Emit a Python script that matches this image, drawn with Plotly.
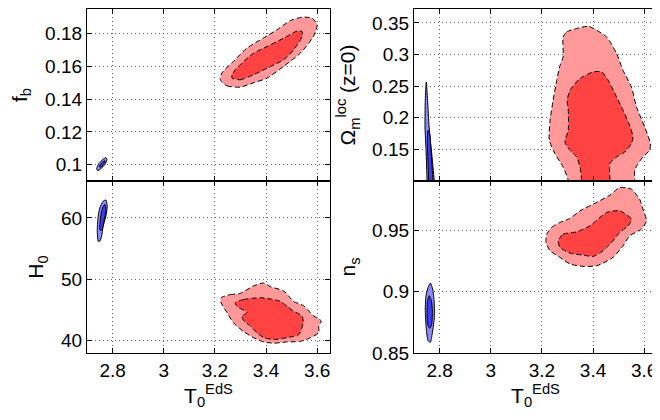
import plotly.graph_objects as go

# ---------------- data ----------------
x_ticks = [2.8, 3.0, 3.2, 3.4, 3.6]
x_tick_labels = ["2.8", "3", "3.2", "3.4", "3.6"]

fb_ticks = [0.1, 0.12, 0.14, 0.16, 0.18]
fb_tick_labels = ["0.1", "0.12", "0.14", "0.16", "0.18"]
H0_ticks = [40, 50, 60]
H0_tick_labels = ["40", "50", "60"]
Om_ticks = [0.15, 0.2, 0.25, 0.3, 0.35]
Om_tick_labels = ["0.15", "0.2", "0.25", "0.3", "0.35"]
ns_ticks = [0.85, 0.9, 0.95]
ns_tick_labels = ["0.85", "0.9", "0.95"]

# f_b vs T0 : red (95% outer, 68% inner), blue
fb_red95_T = [3.221, 3.247, 3.299, 3.350, 3.404, 3.468, 3.535, 3.585, 3.600, 3.580, 3.541, 3.495, 3.443, 3.389, 3.325, 3.272, 3.227]
fb_red95_y = [0.1518, 0.1481, 0.1473, 0.1499, 0.1528, 0.1599, 0.1682, 0.1782, 0.1853, 0.1894, 0.1900, 0.1879, 0.1823, 0.1772, 0.1711, 0.1629, 0.1559]
fb_red68_T = [3.267, 3.299, 3.351, 3.404, 3.469, 3.508, 3.541, 3.541, 3.522, 3.469, 3.404, 3.351, 3.312, 3.280, 3.267]
fb_red68_y = [0.1528, 0.1518, 0.1548, 0.1589, 0.1640, 0.1701, 0.1782, 0.1812, 0.1816, 0.1772, 0.1721, 0.1680, 0.1629, 0.1579, 0.1548]
fb_blue95_T = [2.738, 2.746, 2.762, 2.774, 2.778, 2.770, 2.754, 2.742]
fb_blue95_y = [0.0975, 0.1006, 0.1031, 0.1043, 0.1031, 0.1000, 0.0975, 0.0963]
fb_blue68_T = [2.748, 2.758, 2.770, 2.766, 2.754]
fb_blue68_y = [0.0987, 0.1012, 0.1024, 0.1006, 0.0984]

# H0 vs T0
H0_red95_T = [3.224, 3.260, 3.299, 3.351, 3.391, 3.417, 3.469, 3.508, 3.547, 3.561, 3.587, 3.616, 3.606, 3.606, 3.574, 3.535, 3.482, 3.430, 3.391, 3.351, 3.312, 3.273, 3.247, 3.224]
H0_red95_y = [47.0, 47.5, 47.7, 48.9, 49.4, 48.8, 48.1, 46.4, 45.7, 45.1, 44.0, 43.2, 42.4, 41.3, 40.5, 39.9, 39.8, 39.6, 39.8, 40.5, 41.5, 42.9, 44.6, 46.2]
H0_red68_T = [3.280, 3.312, 3.378, 3.417, 3.456, 3.482, 3.508, 3.541, 3.545, 3.528, 3.482, 3.430, 3.391, 3.365, 3.338, 3.312, 3.306, 3.325, 3.286]
H0_red68_y = [46.2, 46.7, 47.0, 46.8, 46.4, 45.6, 44.8, 44.0, 42.9, 41.0, 40.5, 40.2, 40.5, 41.3, 42.4, 43.3, 44.0, 44.6, 45.6]
H0_blue95_T = [2.744, 2.740, 2.744, 2.750, 2.763, 2.774, 2.779, 2.774, 2.763, 2.757, 2.750]
H0_blue95_y = [56.2, 58.1, 60.3, 61.6, 62.7, 62.9, 61.9, 60.3, 58.6, 57.0, 56.2]
H0_blue68_T = [2.750, 2.754, 2.761, 2.770, 2.774, 2.767, 2.761, 2.754]
H0_blue68_y = [58.1, 60.3, 61.6, 62.2, 61.3, 59.7, 58.4, 57.9]

# Omega_m^loc vs T0
Om_red95_T = [3.283, 3.297, 3.336, 3.381, 3.414, 3.453, 3.492, 3.517, 3.550, 3.570, 3.602, 3.624, 3.621, 3.595, 3.576, 3.563, 3.563, 3.563,
              3.303, 3.303, 3.283, 3.251, 3.229, 3.232, 3.244, 3.258, 3.271, 3.283]
Om_red95_y = [0.3278, 0.3358, 0.3411, 0.3448, 0.3384, 0.3278, 0.3016, 0.2752, 0.2487, 0.2171, 0.1854, 0.1592, 0.1486, 0.1380, 0.1275, 0.1169, 0.1011, 0.09,
              0.09, 0.1011, 0.1222, 0.1433, 0.1644, 0.1960, 0.2277, 0.2593, 0.2831, 0.2962]
Om_red68_T = [3.310, 3.349, 3.400, 3.433, 3.459, 3.492, 3.517, 3.543, 3.556, 3.550, 3.524, 3.492, 3.466, 3.466, 3.466,
              3.355, 3.355, 3.349, 3.336, 3.310, 3.290, 3.303, 3.303, 3.299]
Om_red68_y = [0.2435, 0.2620, 0.2725, 0.2725, 0.2593, 0.2329, 0.2119, 0.1881, 0.1696, 0.1592, 0.1459, 0.1380, 0.1275, 0.1011, 0.09,
              0.09, 0.1011, 0.1222, 0.1380, 0.1486, 0.1617, 0.1802, 0.2119, 0.2277]
Om_blue95_T = [2.748, 2.753, 2.759, 2.768, 2.779, 2.780, 2.751, 2.751, 2.747, 2.743, 2.744]
Om_blue95_y = [0.2567, 0.2277, 0.1854, 0.1486, 0.1011, 0.09, 0.09, 0.1011, 0.1486, 0.1854, 0.2277]
Om_blue68_T = [2.755, 2.761, 2.766, 2.774, 2.775, 2.757, 2.757, 2.753, 2.752]
Om_blue68_y = [0.1802, 0.1750, 0.1486, 0.1011, 0.09, 0.09, 0.1011, 0.1486, 0.1696]

# n_s vs T0
ns_red95_T = [3.219, 3.238, 3.271, 3.310, 3.349, 3.400, 3.466, 3.504, 3.550, 3.582, 3.595, 3.609, 3.589, 3.543, 3.517, 3.478, 3.414, 3.361, 3.310, 3.271, 3.232, 3.216]
ns_red95_y = [0.9467, 0.9522, 0.9563, 0.9595, 0.9657, 0.9711, 0.9785, 0.9847, 0.9833, 0.9752, 0.9671, 0.9576, 0.9508, 0.9454, 0.9372, 0.9278, 0.9210, 0.9205, 0.9224, 0.9278, 0.9332, 0.9400]
ns_red68_T = [3.264, 3.283, 3.336, 3.388, 3.453, 3.504, 3.550, 3.537, 3.504, 3.478, 3.439, 3.400, 3.361, 3.310, 3.271]
ns_red68_y = [0.9413, 0.9467, 0.9486, 0.9535, 0.9644, 0.9657, 0.9589, 0.9535, 0.9481, 0.9413, 0.9332, 0.9286, 0.9297, 0.9313, 0.9359]
ns_blue95_T = [2.764, 2.773, 2.779, 2.779, 2.770, 2.764, 2.755, 2.747, 2.744, 2.747, 2.755]
ns_blue95_y = [0.9069, 0.9020, 0.8912, 0.8776, 0.8641, 0.8587, 0.8600, 0.8722, 0.8858, 0.8966, 0.9034]
ns_blue68_T = [2.760, 2.768, 2.772, 2.768, 2.761, 2.753, 2.751, 2.753]
ns_blue68_y = [0.8966, 0.8925, 0.8831, 0.8722, 0.8701, 0.8736, 0.8831, 0.8925]

# ---------------- styling ----------------
RED_LIGHT = "#FF9999"
RED_DARK = "#FF4242"
BLUE_LIGHT = "#8C8CFF"
BLUE_DARK = "#3C3CFA"
FONT = "Liberation Sans, Arial, sans-serif"

fig = go.Figure()


def region(T, y, color, xa, ya, dashed):
    fig.add_trace(go.Scatter(
        x=list(T) + [T[0]], y=list(y) + [y[0]],
        xaxis=xa, yaxis=ya, mode="lines", fill="toself", fillcolor=color,
        line=dict(color="black", width=1, dash="5px,3px" if dashed else "solid",
                  shape="spline", smoothing=0.6),
        hoverinfo="skip", showlegend=False))


panels = [
    ("x", "y", fb_red95_T, fb_red95_y, fb_red68_T, fb_red68_y, fb_blue95_T, fb_blue95_y, fb_blue68_T, fb_blue68_y),
    ("x2", "y2", Om_red95_T, Om_red95_y, Om_red68_T, Om_red68_y, Om_blue95_T, Om_blue95_y, Om_blue68_T, Om_blue68_y),
    ("x3", "y3", H0_red95_T, H0_red95_y, H0_red68_T, H0_red68_y, H0_blue95_T, H0_blue95_y, H0_blue68_T, H0_blue68_y),
    ("x4", "y4", ns_red95_T, ns_red95_y, ns_red68_T, ns_red68_y, ns_blue95_T, ns_blue95_y, ns_blue68_T, ns_blue68_y),
]
for xa, ya, rT, ry, rT2, ry2, bT, by, bT2, by2 in panels:
    region(rT, ry, RED_LIGHT, xa, ya, True)
    region(rT2, ry2, RED_DARK, xa, ya, True)
    region(bT, by, BLUE_LIGHT, xa, ya, False)
    region(bT2, by2, BLUE_DARK, xa, ya, False)

tickfont = dict(family=FONT, size=19, color="black")
titlefont = dict(family=FONT, size=21, color="black")

common = dict(showline=True, linecolor="black", linewidth=1.2, mirror="ticks",
              ticks="inside", ticklen=5, tickcolor="black", tickwidth=1,
              showgrid=True, gridcolor="rgba(0,0,0,0.6)", griddash="1px,3px", gridwidth=1,
              zeroline=False, tickfont=tickfont)

# the page body adds an 8px offset, so the figure is 8px smaller than the window
col1 = [0.0, 0.4263]
col2 = [0.5737, 1.0]
top = [0.5, 1.0]
bot = [0.0, 0.5]
xr = [2.7, 3.65]

xt = dict(range=xr, tickvals=x_ticks, ticktext=x_tick_labels, automargin=False, **common)
yt = dict(automargin=True, **common)

fig.update_layout(
    width=652, height=412,
    margin=dict(l=79, r=3, t=1, b=67, autoexpand=False),
    paper_bgcolor="white", plot_bgcolor="white",
    font=dict(family=FONT, color="black"),
    xaxis=dict(domain=col1, anchor="y", showticklabels=False, **xt),
    xaxis2=dict(domain=col2, anchor="y2", showticklabels=False, **xt),
    xaxis3=dict(domain=col1, anchor="y3", title=dict(text="T<sub>0</sub><sup>EdS</sup>", font=titlefont, standoff=4), **xt),
    xaxis4=dict(domain=col2, anchor="y4", title=dict(text="T<sub>0</sub><sup>EdS</sup>", font=titlefont, standoff=4), **xt),
    yaxis=dict(domain=top, anchor="x", range=[0.09, 0.195], tickvals=fb_ticks, ticktext=fb_tick_labels,
               title=dict(text="f<sub>b</sub>", font=titlefont, standoff=27), **yt),
    yaxis2=dict(domain=top, anchor="x2", range=[0.1, 0.372], tickvals=Om_ticks, ticktext=Om_tick_labels,
                title=dict(text="Ω<sub>m</sub><sup>loc</sup> (z=0)", font=titlefont, standoff=10), **yt),
    yaxis3=dict(domain=bot, anchor="x3", range=[38, 66], tickvals=H0_ticks, ticktext=H0_tick_labels,
                title=dict(text="H<sub>0</sub>", font=titlefont, standoff=11), **yt),
    yaxis4=dict(domain=bot, anchor="x4", range=[0.85, 0.99], tickvals=ns_ticks, ticktext=ns_tick_labels,
                title=dict(text="n<sub>s</sub>", font=titlefont, standoff=10), **yt),
)

fig.write_html("out.html")
